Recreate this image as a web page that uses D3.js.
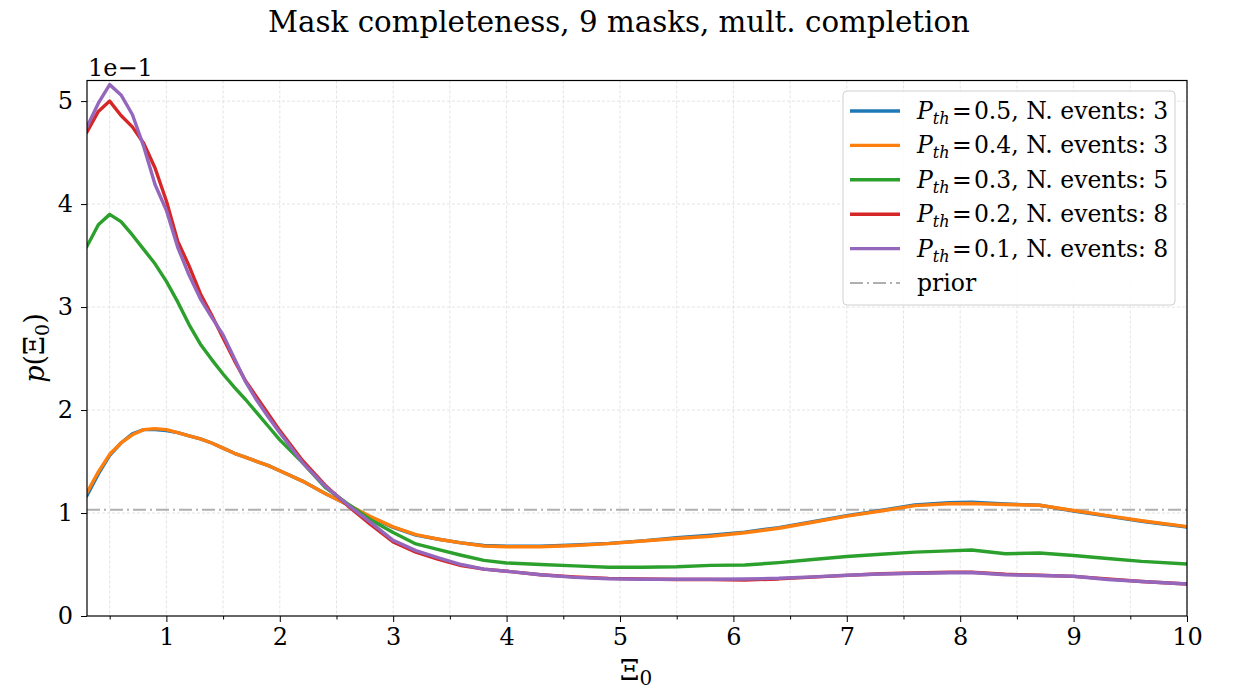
<!DOCTYPE html>
<html>
<head>
<meta charset="utf-8">
<script src="https://cdn.jsdelivr.net/npm/d3@7"></script>
<style>
  html, body { margin: 0; padding: 0; background: #fff; }
  svg { display: block; }
  text { font-family: "DejaVu Serif", "Liberation Serif", serif; fill: #000; }
</style>
</head>
<body>
<svg id="chart" width="1236" height="689"></svg>
<script>
// Posterior densities of Xi_0, expressed in units of 1e-1 (the axis offset)
const xs = [0.3,0.4,0.5,0.6,0.7,0.8,0.9,1.0,1.1,1.2,1.3,1.4,1.5,1.6,1.7,1.8,1.9,2.0,
            2.2,2.4,2.6,2.8,3.0,3.2,3.4,3.6,3.8,4.0,4.3,4.6,4.9,5.2,5.5,5.8,6.1,6.4,
            6.7,7.0,7.3,7.6,7.9,8.1,8.4,8.7,9.0,9.3,9.6,10.0];

const pth05 = [1.17,1.38,1.56,1.68,1.77,1.81,1.81,1.80,1.78,1.75,1.72,1.68,1.63,1.58,1.54,1.50,1.46,1.41,
               1.31,1.19,1.08,0.96,0.86,0.785,0.745,0.71,0.685,0.678,0.678,0.690,0.705,0.730,0.760,0.785,0.815,0.858,
               0.915,0.975,1.025,1.078,1.100,1.105,1.088,1.075,1.020,0.970,0.920,0.865];
const pth04 = [1.20,1.40,1.57,1.68,1.76,1.81,1.82,1.81,1.78,1.75,1.72,1.68,1.63,1.58,1.54,1.50,1.46,1.41,
               1.31,1.19,1.08,0.965,0.865,0.79,0.745,0.71,0.68,0.673,0.672,0.684,0.703,0.728,0.753,0.775,0.808,0.852,
               0.910,0.970,1.020,1.072,1.090,1.093,1.083,1.075,1.025,0.975,0.925,0.868];
const pth03 = [3.59,3.80,3.90,3.83,3.70,3.56,3.42,3.25,3.05,2.83,2.64,2.49,2.35,2.22,2.10,1.97,1.84,1.71,
               1.49,1.25,1.09,0.935,0.81,0.70,0.645,0.59,0.54,0.515,0.500,0.487,0.474,0.473,0.478,0.492,0.495,0.518,
               0.548,0.578,0.600,0.620,0.632,0.641,0.605,0.612,0.588,0.558,0.530,0.505];
const pth02 = [4.70,4.90,5.00,4.86,4.75,4.59,4.35,4.03,3.64,3.40,3.13,2.92,2.70,2.48,2.28,2.12,1.96,1.80,
               1.51,1.27,1.07,0.89,0.72,0.62,0.55,0.49,0.455,0.435,0.400,0.380,0.365,0.360,0.355,0.355,0.350,0.360,
               0.378,0.395,0.410,0.418,0.425,0.425,0.405,0.395,0.385,0.360,0.335,0.310];
const pth01 = [4.75,4.98,5.16,5.06,4.87,4.56,4.19,3.94,3.58,3.31,3.08,2.90,2.73,2.50,2.27,2.09,1.93,1.78,
               1.49,1.26,1.08,0.91,0.735,0.635,0.565,0.50,0.455,0.435,0.400,0.375,0.362,0.357,0.357,0.357,0.360,0.366,
               0.380,0.395,0.408,0.415,0.420,0.423,0.400,0.393,0.386,0.355,0.335,0.310];

const thresholds = ["0.5","0.4","0.3","0.2","0.1"];
const nEvents = [3, 3, 5, 8, 8];
const seriesValues = [pth05, pth04, pth03, pth02, pth01];
const colors = ["#1f77b4","#ff7f0e","#2ca02c","#d62728","#9467bd"];

const xTicks = [1,2,3,4,5,6,7,8,9,10];
const yTicks = [0,1,2,3,4,5];
const xDomain = [0.3, 10];
const yDomain = [0, 5.2];
// uniform prior over the Xi_0 range, in the same 1e-1 units
const priorValue = 10 / (xDomain[1] - xDomain[0]);

const svg = d3.select("#chart");
const m = { left: 87, right: 1187, top: 80.5, bottom: 616 };

const x = d3.scaleLinear().domain(xDomain).range([m.left, m.right]);
const y = d3.scaleLinear().domain(yDomain).range([m.bottom, m.top]);

// grid
const grid = svg.append("g");
const xGrid = d3.range(0.5, 10.01, 0.5);
grid.selectAll("line.gx").data(xGrid).join("line")
  .attr("x1", d => x(d)).attr("x2", d => x(d))
  .attr("y1", m.top).attr("y2", m.bottom)
  .attr("stroke", "#dcdcdc").attr("stroke-width", 0.8).attr("stroke-dasharray", "3,2");
grid.selectAll("line.gy").data(yTicks.filter(d => d > 0)).join("line")
  .attr("x1", m.left).attr("x2", m.right)
  .attr("y1", d => y(d)).attr("y2", d => y(d))
  .attr("stroke", "#dcdcdc").attr("stroke-width", 0.8).attr("stroke-dasharray", "3,2");

// prior
svg.append("line")
  .attr("x1", m.left).attr("x2", m.right)
  .attr("y1", y(priorValue)).attr("y2", y(priorValue))
  .attr("stroke", "#b0b0b0").attr("stroke-width", 2)
  .attr("stroke-dasharray", "13,4,2,4");

// curves
svg.append("clipPath").attr("id", "plotclip").append("rect")
  .attr("x", m.left).attr("y", m.top).attr("width", m.right - m.left).attr("height", m.bottom - m.top);
const line = d3.line().x((d, i) => x(xs[i])).y(d => y(d));
svg.append("g").attr("clip-path", "url(#plotclip)")
  .selectAll("path").data(seriesValues).join("path")
  .attr("d", d => line(d))
  .attr("fill", "none")
  .attr("stroke", (d, i) => colors[i])
  .attr("stroke-width", 3.4)
  .attr("stroke-linejoin", "round")
  .attr("stroke-linecap", "square");

// axes
svg.append("g").attr("transform", `translate(0,${m.bottom})`)
  .call(d3.axisBottom(x).tickValues(xTicks).tickSize(6).tickPadding(6).tickFormat(d3.format("d")));
svg.append("g").attr("transform", `translate(0,${m.bottom})`)
  .call(d3.axisBottom(x).tickValues(d3.range(0.5, 10, 1)).tickSize(3.5).tickFormat(""))
  .call(g => g.select(".domain").remove());
svg.append("g").attr("transform", `translate(${m.left},0)`)
  .call(d3.axisLeft(y).tickValues(yTicks).tickSize(6).tickPadding(8).tickFormat(d3.format("d")));
svg.selectAll(".tick text").attr("font-size", 24).attr("font-family", "DejaVu Serif");
svg.selectAll(".tick line").attr("stroke", "#000").attr("stroke-width", 1);
svg.selectAll(".domain").remove();

// frame
svg.append("rect")
  .attr("x", m.left).attr("y", m.top)
  .attr("width", m.right - m.left).attr("height", m.bottom - m.top)
  .attr("fill", "none").attr("stroke", "#000").attr("stroke-width", 1.2);

// offset label
svg.append("text").attr("x", m.left + 1).attr("y", 76)
  .attr("font-size", 24).text("1e\u22121");

// title
svg.append("text").attr("x", 619).attr("y", 32).attr("text-anchor", "middle")
  .attr("font-size", 29.3).text("Mask completeness, 9 masks, mult. completion");

// axis labels
const xl = svg.append("text").attr("x", 636).attr("y", 680).attr("text-anchor", "middle")
  .attr("font-size", 28);
xl.append("tspan").text("\u039E");
xl.append("tspan").attr("font-size", 20).attr("dy", 5).text("0");

const yl = svg.append("text").attr("transform", "translate(44,348) rotate(-90)")
  .attr("text-anchor", "middle").attr("font-size", 27);
yl.append("tspan").attr("font-style", "italic").text("p");
yl.append("tspan").text("(\u039E");
yl.append("tspan").attr("font-size", 19).attr("dy", 5).text("0");
yl.append("tspan").attr("dy", -5).text(")");

// legend
const lg = svg.append("g");
lg.append("rect").attr("x", 843).attr("y", 91).attr("width", 332).attr("height", 214)
  .attr("rx", 4).attr("fill", "#fff").attr("fill-opacity", 0.85)
  .attr("stroke", "#d0d0d0").attr("stroke-width", 1);
const rowY = i => 111 + i * 34.4;
thresholds.forEach((t, i) => {
  lg.append("line").attr("x1", 850).attr("x2", 900).attr("y1", rowY(i)).attr("y2", rowY(i))
    .attr("stroke", colors[i]).attr("stroke-width", 3.4);
  const tx = lg.append("text").attr("x", 917).attr("y", rowY(i) + 8).attr("font-size", 23.5);
  tx.append("tspan").attr("font-style", "italic").text("P");
  tx.append("tspan").attr("font-style", "italic").attr("font-size", 16).attr("dy", 5).text("th");
  tx.append("tspan").attr("dy", -5).text("\u200A=\u200A" + t + ", N. events: " + nEvents[i]);
});
lg.append("line").attr("x1", 850).attr("x2", 900).attr("y1", rowY(5)).attr("y2", rowY(5))
  .attr("stroke", "#b0b0b0").attr("stroke-width", 2).attr("stroke-dasharray", "13,4,2,4");
lg.append("text").attr("x", 917).attr("y", rowY(5) + 8).attr("font-size", 23.5).text("prior");
</script>
</body>
</html>
